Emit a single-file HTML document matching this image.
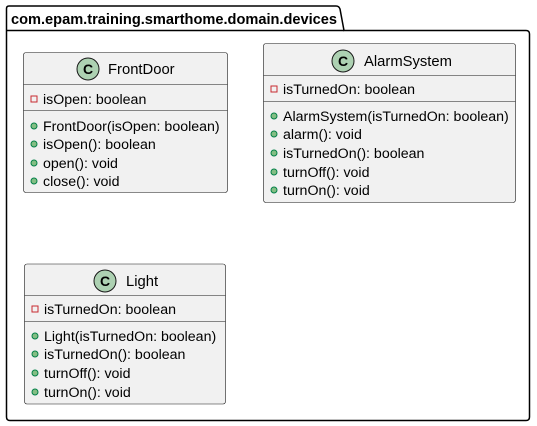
<!DOCTYPE html>
<html><head><meta charset="utf-8"><style>
html,body{margin:0;padding:0;background:#fff;}
svg{display:block;}
text{font-family:"Liberation Sans",sans-serif;font-size:14.2px;fill:#000;}
.h{font-size:14.8px;}
</style></head><body>
<svg width="537" height="426" viewBox="0 0 537 426" xmlns="http://www.w3.org/2000/svg">
<!-- package -->
<path d="M6.5,8.5 Q6.5,6 9,6 L336,6 Q339,6 340,9 L344,30.5 L526,30.5 Q529.5,30.5 529.5,34 L529.5,417 Q529.5,420.5 526,420.5 L10,420.5 Q6.5,420.5 6.5,417 Z" fill="#fff" stroke="#000" stroke-width="1.5"/>
<line x1="6.5" y1="30.5" x2="344" y2="30.5" stroke="#000" stroke-width="1.5"/>
<text x="11" y="24" style="font-weight:bold;font-size:14.6px">com.epam.training.smarthome.domain.devices</text>

<!-- FrontDoor -->
<rect x="23.5" y="52.5" width="204" height="140" rx="2.5" fill="#F1F1F1" stroke="#181818" stroke-width="0.6"/>
<line x1="23.5" y1="84.5" x2="227.5" y2="84.5" stroke="#181818" stroke-width="0.6"/>
<line x1="23.5" y1="110.5" x2="227.5" y2="110.5" stroke="#181818" stroke-width="0.6"/>
<circle cx="88" cy="69" r="11" fill="#ADD1B2" stroke="#181818" stroke-width="1"/>
<text x="88" y="74" text-anchor="middle" style="font-weight:bold;font-size:14px">C</text>
<text x="108" y="74" class="h">FrontDoor</text>
<rect x="31" y="96" width="6" height="6" fill="none" stroke="#C82930" stroke-width="1"/>
<text x="43" y="104">isOpen: boolean</text>
<circle cx="34" cy="126" r="3" fill="#84BE84" stroke="#038048" stroke-width="1"/>
<text x="43" y="131">FrontDoor(isOpen: boolean)</text>
<circle cx="34" cy="144" r="3" fill="#84BE84" stroke="#038048" stroke-width="1"/>
<text x="43" y="149">isOpen(): boolean</text>
<circle cx="34" cy="163" r="3" fill="#84BE84" stroke="#038048" stroke-width="1"/>
<text x="43" y="168">open(): void</text>
<circle cx="34" cy="181" r="3" fill="#84BE84" stroke="#038048" stroke-width="1"/>
<text x="43" y="186">close(): void</text>

<!-- AlarmSystem -->
<rect x="263.5" y="43.5" width="252" height="159" rx="2.5" fill="#F1F1F1" stroke="#181818" stroke-width="0.6"/>
<line x1="263.5" y1="75.5" x2="515.5" y2="75.5" stroke="#181818" stroke-width="0.6"/>
<line x1="263.5" y1="101.5" x2="515.5" y2="101.5" stroke="#181818" stroke-width="0.6"/>
<circle cx="343" cy="61" r="11" fill="#ADD1B2" stroke="#181818" stroke-width="1"/>
<text x="343" y="66" text-anchor="middle" style="font-weight:bold;font-size:14px">C</text>
<text x="364" y="66" class="h">AlarmSystem</text>
<rect x="271" y="86" width="6" height="6" fill="none" stroke="#C82930" stroke-width="1"/>
<text x="283" y="94">isTurnedOn: boolean</text>
<circle cx="274" cy="116" r="3" fill="#84BE84" stroke="#038048" stroke-width="1"/>
<text x="283" y="121">AlarmSystem(isTurnedOn: boolean)</text>
<circle cx="274" cy="134" r="3" fill="#84BE84" stroke="#038048" stroke-width="1"/>
<text x="283" y="139">alarm(): void</text>
<circle cx="274" cy="153" r="3" fill="#84BE84" stroke="#038048" stroke-width="1"/>
<text x="283" y="158">isTurnedOn(): boolean</text>
<circle cx="274" cy="172" r="3" fill="#84BE84" stroke="#038048" stroke-width="1"/>
<text x="283" y="177">turnOff(): void</text>
<circle cx="274" cy="190" r="3" fill="#84BE84" stroke="#038048" stroke-width="1"/>
<text x="283" y="195">turnOn(): void</text>

<!-- Light -->
<rect x="24.5" y="264" width="201" height="140" rx="2.5" fill="#F1F1F1" stroke="#181818" stroke-width="0.6"/>
<line x1="24.5" y1="295.5" x2="225.5" y2="295.5" stroke="#181818" stroke-width="0.6"/>
<line x1="24.5" y1="321.5" x2="225.5" y2="321.5" stroke="#181818" stroke-width="0.6"/>
<circle cx="105" cy="281" r="11" fill="#ADD1B2" stroke="#181818" stroke-width="1"/>
<text x="105" y="286" text-anchor="middle" style="font-weight:bold;font-size:14px">C</text>
<text x="126" y="286" class="h">Light</text>
<rect x="32" y="306" width="6" height="6" fill="none" stroke="#C82930" stroke-width="1"/>
<text x="44" y="314">isTurnedOn: boolean</text>
<circle cx="35" cy="336" r="3" fill="#84BE84" stroke="#038048" stroke-width="1"/>
<text x="44" y="341">Light(isTurnedOn: boolean)</text>
<circle cx="35" cy="354" r="3" fill="#84BE84" stroke="#038048" stroke-width="1"/>
<text x="44" y="359">isTurnedOn(): boolean</text>
<circle cx="35" cy="373" r="3" fill="#84BE84" stroke="#038048" stroke-width="1"/>
<text x="44" y="378">turnOff(): void</text>
<circle cx="35" cy="392" r="3" fill="#84BE84" stroke="#038048" stroke-width="1"/>
<text x="44" y="397">turnOn(): void</text>
</svg>
</body></html>
